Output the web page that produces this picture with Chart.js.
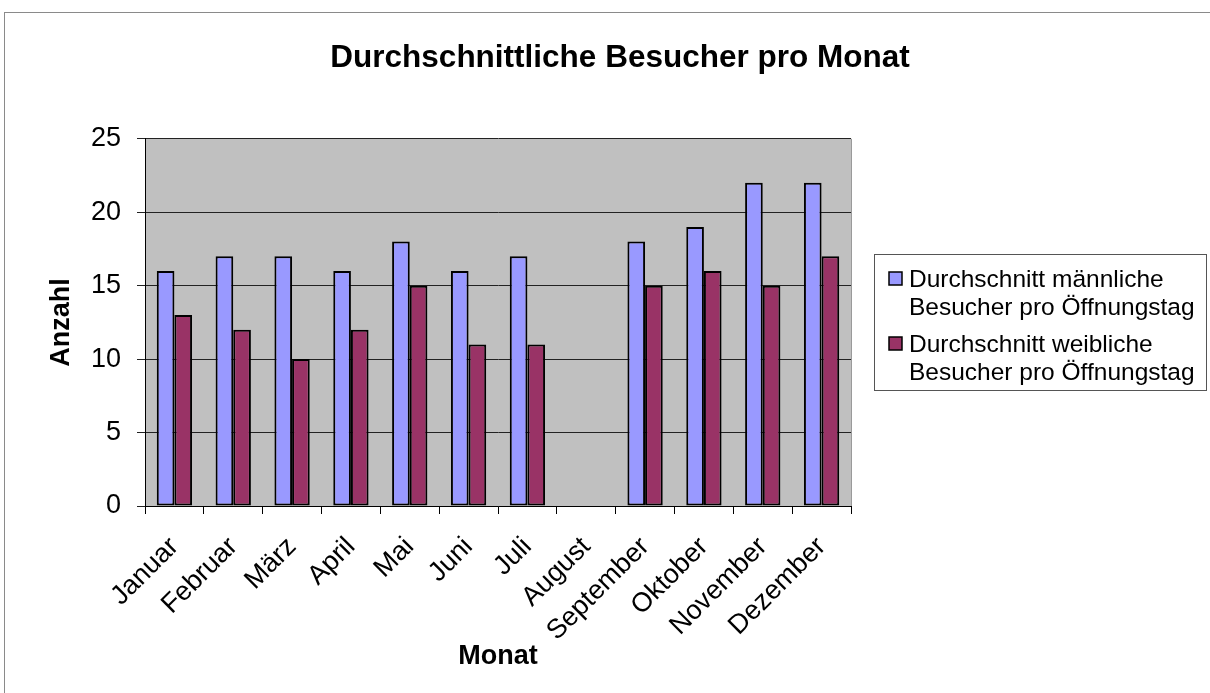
<!DOCTYPE html>
<html lang="de">
<head>
<meta charset="UTF-8">
<title>Durchschnittliche Besucher pro Monat</title>
<script src="https://cdn.jsdelivr.net/npm/chart.js"></script>
<style>
  html, body { margin: 0; padding: 0; background: #fff; }
</style>
</head>
<body>
<canvas id="besucherChart" width="1210" height="693"></canvas>
<script>
const monate = ['Januar', 'Februar', 'März', 'April', 'Mai', 'Juni', 'Juli', 'August', 'September', 'Oktober', 'November', 'Dezember'];
const maennlich = [16, 17, 17, 16, 18, 16, 17, null, 18, 19, 22, 22];
const weiblich = [13, 12, 10, 12, 15, 11, 11, null, 15, 16, 15, 17];
const legendeMaennlich = ['Durchschnitt männliche', 'Besucher pro Öffnungstag'];
const legendeWeiblich = ['Durchschnitt weibliche', 'Besucher pro Öffnungstag'];
const yMin = 0, yMax = 25, yStep = 5;

const FONT = "'Liberation Sans', Arial, sans-serif";

// grauer Hintergrund der Zeichenfläche + Rahmen
const hintergrund = {
  id: 'hintergrund',
  beforeDraw(chart) {
    const { ctx, chartArea: a } = chart;
    ctx.save();
    ctx.fillStyle = '#c0c0c0';
    ctx.fillRect(a.left, a.top, a.right - a.left, a.bottom - a.top);
    ctx.strokeStyle = '#8a8a8a';
    ctx.lineWidth = 1;
    ctx.strokeRect(4.5, 12.5, 1210, 700);
    ctx.restore();
  },
  afterDraw(chart) {
    const { ctx, chartArea: a } = chart;
    ctx.save();
    ctx.strokeStyle = '#9a9a9a';
    ctx.lineWidth = 1;
    ctx.beginPath();
    ctx.moveTo(Math.round(a.right) + 0.5, a.top);
    ctx.lineTo(Math.round(a.right) + 0.5, a.bottom);
    ctx.stroke();
    ctx.restore();
  }
};

// Legende rechts, zweizeilig
const legende = {
  id: 'legende',
  afterDraw(chart) {
    const ctx = chart.ctx;
    const eintraege = [legendeMaennlich, legendeWeiblich];
    ctx.save();
    ctx.strokeStyle = '#555';
    ctx.lineWidth = 1;
    ctx.strokeRect(874.5, 254.5, 332, 136);
    ctx.font = '24.5px ' + FONT;
    ctx.textBaseline = 'alphabetic';
    eintraege.forEach(function (zeilen, i) {
      const ds = chart.data.datasets[i];
      const basis = 287 + i * 65;
      ctx.fillStyle = ds.backgroundColor;
      ctx.fillRect(889, basis - 15, 13, 13);
      ctx.strokeStyle = '#000';
      ctx.lineWidth = 1.5;
      ctx.strokeRect(889, basis - 15, 13, 13);
      ctx.fillStyle = '#000';
      zeilen.forEach(function (z, j) {
        ctx.fillText(z, 909, basis + j * 28);
      });
    });
    ctx.restore();
  }
};

const ctx = document.getElementById('besucherChart').getContext('2d');
new Chart(ctx, {
  type: 'bar',
  data: {
    labels: monate,
    datasets: [
      {
        label: legendeMaennlich.join(' '),
        data: maennlich,
        backgroundColor: '#9999ff',
        borderColor: '#000',
        borderWidth: 2,
        borderSkipped: false
      },
      {
        label: legendeWeiblich.join(' '),
        data: weiblich,
        backgroundColor: '#993366',
        borderColor: '#000',
        borderWidth: 2,
        borderSkipped: false
      }
    ]
  },
  options: {
    responsive: false,
    animation: false,
    layout: { padding: { left: 30, right: 0, top: 0, bottom: 8 } },
    datasets: { bar: { categoryPercentage: 0.6, barPercentage: 1 } },
    plugins: {
      legend: { display: false },
      tooltip: { enabled: false },
      title: {
        display: true,
        text: 'Durchschnittliche Besucher pro Monat',
        color: '#000',
        font: { family: FONT, size: 31.5, weight: 'bold' },
        padding: { top: 39, bottom: 62 }
      }
    },
    scales: {
      x: {
        offset: true,
        grid: { offset: true, drawOnChartArea: false, drawTicks: true, tickLength: 8, color: '#000' },
        border: { display: true, color: '#000', width: 1 },
        ticks: {
          color: '#000',
          font: { family: FONT, size: 27 },
          maxRotation: 45,
          minRotation: 45,
          padding: 17,
          autoSkip: false
        },
        title: {
          display: true,
          text: 'Monat',
          color: '#000',
          font: { family: FONT, size: 27, weight: 'bold' },
          padding: { top: 0, bottom: 12 }
        },
        afterFit(scale) { scale.height = 693 - 8 - 506; }
      },
      y: {
        min: yMin,
        max: yMax,
        grid: { color: '#222', lineWidth: 1, tickLength: 8 },
        border: { display: true, color: '#000', width: 1 },
        ticks: {
          stepSize: yStep,
          color: '#000',
          font: { family: FONT, size: 27 },
          padding: 16
        },
        title: {
          display: true,
          text: 'Anzahl',
          color: '#000',
          font: { family: FONT, size: 27, weight: 'bold' },
          padding: { top: 15, bottom: 0 }
        },
        afterFit(scale) { scale.width = 145 - 30; }
      },
      rechts: {
        position: 'right',
        type: 'linear',
        min: yMin,
        max: yMax,
        grid: { display: false },
        border: { display: false },
        ticks: { display: false },
        afterFit(scale) { scale.width = 1210 - 851; }
      }
    }
  },
  plugins: [hintergrund, legende]
});
</script>
</body>
</html>
